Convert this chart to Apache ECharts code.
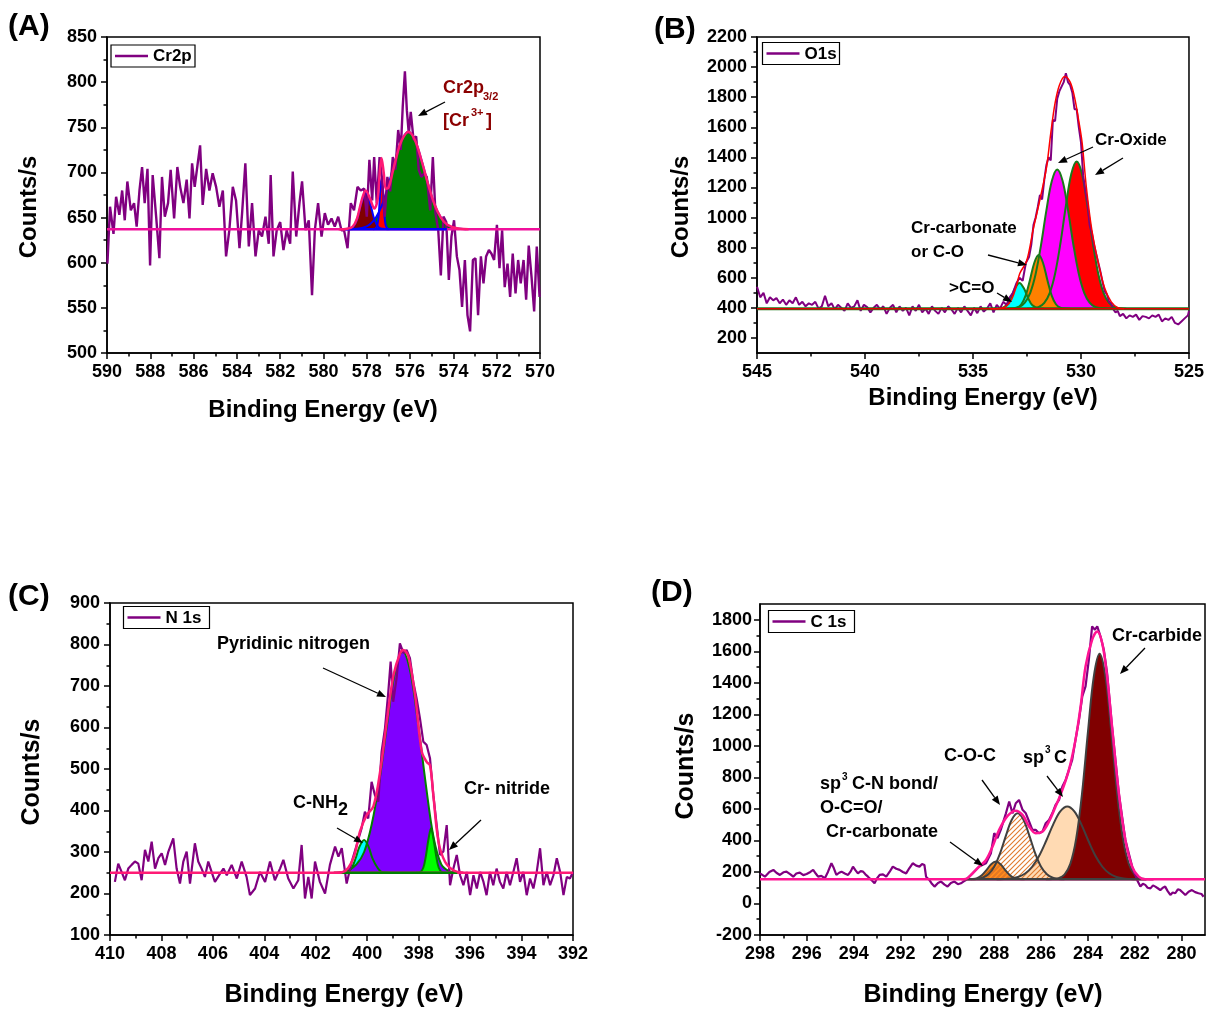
<!DOCTYPE html>
<html><head><meta charset="utf-8">
<script src="https://cdn.jsdelivr.net/npm/echarts@6/dist/echarts.min.js"></script>
<style>html,body{margin:0;padding:0;background:#fff}#c{width:1207px;height:1009px}</style>
</head><body><div id="c"></div><script>
// ---------------- DATA ----------------
// Panel A : Cr2p
const A_raw=[[589.98,599],[589.86,662],[589.70,632],[589.58,673],[589.43,653],[589.30,680],[589.18,647],[589.06,690],[588.90,658],[588.75,666],[588.63,640],[588.50,680],[588.38,706],[588.26,666],[588.13,704],[588.01,597],[587.89,697],[587.73,651],[587.58,605],[587.46,695],[587.33,651],[587.18,666],[587.06,703],[586.90,649],[586.75,706],[586.62,684],[586.47,666],[586.32,692],[586.19,649],[586.07,710],[585.95,684],[585.82,708],[585.70,730],[585.58,664],[585.42,704],[585.27,680],[585.12,699],[584.96,684],[584.81,662],[584.65,680],[584.50,607],[584.35,636],[584.19,684],[584.04,669],[583.88,616],[583.76,655],[583.61,710],[583.45,618],[583.30,666],[583.14,607],[582.99,636],[582.84,629],[582.68,651],[582.53,621],[582.44,697],[582.31,607],[582.16,636],[582.00,645],[581.85,614],[581.70,636],[581.54,621],[581.42,701],[581.26,629],[581.11,666],[580.99,690],[580.83,636],[580.68,647],[580.53,564],[580.40,636],[580.25,666],[580.09,629],[579.94,655],[579.79,642],[579.63,649],[579.48,640],[579.32,651],[579.17,636],[579.05,636],[578.89,616],[578.74,666],[578.59,658],[578.43,684],[578.28,680],[578.12,682],[578.00,651],[577.88,714],[577.75,669],[577.66,717],[577.54,666],[577.41,717],[577.29,692],[577.17,651],[577.05,695],[576.92,679],[576.80,717],[576.68,703],[576.55,747],[576.43,725],[576.34,773],[576.24,812],[576.15,769],[576.06,743],[575.97,767],[575.84,736],[575.72,740],[575.60,703],[575.48,695],[575.35,699],[575.23,695],[575.07,658],[574.95,717],[574.83,655],[574.70,636],[574.58,586],[574.46,651],[574.33,645],[574.21,581],[574.09,629],[573.97,647],[573.84,607],[573.72,592],[573.60,551],[573.47,603],[573.35,542],[573.23,524],[573.10,603],[572.98,605],[572.86,542],[572.73,607],[572.61,577],[572.49,607],[572.36,614],[572.24,610],[572.12,603],[571.99,642],[571.87,594],[571.75,636],[571.63,573],[571.50,599],[571.38,562],[571.26,610],[571.13,566],[571.01,603],[570.89,577],[570.76,603],[570.64,559],[570.52,619],[570.39,584],[570.27,546],[570.15,618],[570.02,562]];
const A_base=[[590,637],[570,637]];
const A_compBase=[[579.0,637],[574.3,637]];
const A_green=[[578.8,637],[578.48,637.5],[578.18,638.7],[577.88,642],[577.58,650],[577.28,665],[576.98,688],[576.68,714],[576.38,736],[576.08,745],[575.78,736],[575.48,714],[575.18,688],[574.88,665],[574.58,650],[574.28,642],[573.98,638.7],[573.68,637.5],[573.4,637]];
const A_maroon=[[579.1,637],[578.85,637.5],[578.65,639],[578.45,648],[578.25,666],[578.05,677],[577.85,666],[577.65,648],[577.45,639],[577.25,637.5],[577.0,637]];
const A_red=[[577.7,637],[577.62,637.5],[577.52,641],[577.44,656],[577.38,680],[577.32,694],[577.26,680],[577.2,656],[577.12,641],[577.02,637.5],[576.95,637]];
const A_env=[[579.3,637],[578.9,637.6],[578.65,640],[578.45,649],[578.25,668],[578.05,680],[577.85,671],[577.65,660],[577.5,670],[577.42,694],[577.32,716],[577.22,700],[577.12,682],[577.0,683],[576.8,701],[576.6,720],[576.4,735],[576.08,745],[575.78,736],[575.48,714],[575.18,688],[574.88,665],[574.58,650],[574.28,642],[573.98,639],[573.68,637.5],[573.3,637]];

// Panel B : O1s
const B_yMajor=[200,400,600,800,1000,1200,1400,1600,1800,2000,2200];
const B_yMinor=[300,500,700,900,1100,1300,1500,1700,1900,2100];
const B_raw=[[545.0,540],[544.85,470],[544.7,500],[544.55,430],[544.4,470],[544.25,450],[544.1,465],[543.95,430],[543.8,455],[543.65,420],[543.5,450],[543.35,430],[543.2,470],[543.05,420],[542.9,440],[542.75,410],[542.6,430],[542.45,420],[542.3,440],[542.15,395],[542.0,410],[541.85,480],[541.7,410],[541.55,430],[541.4,390],[541.25,420],[541.1,400],[540.95,380],[540.8,430],[540.65,400],[540.5,410],[540.35,450],[540.2,380],[540.05,420],[539.9,405],[539.75,370],[539.6,400],[539.45,420],[539.3,390],[539.15,410],[539.0,360],[538.85,400],[538.7,420],[538.55,370],[538.4,410],[538.25,380],[538.1,400],[537.95,350],[537.8,410],[537.65,380],[537.5,420],[537.35,370],[537.2,395],[537.05,360],[536.9,410],[536.75,380],[536.6,360],[536.45,400],[536.3,370],[536.15,410],[536.0,390],[535.85,360],[535.7,400],[535.55,370],[535.4,410],[535.25,380],[535.1,350],[534.95,400],[534.8,365],[534.65,410],[534.5,375],[534.35,395],[534.2,430],[534.05,370],[533.9,420],[533.75,395],[533.6,440],[533.45,420],[533.3,470],[533.15,500],[533.0,560],[532.85,600],[532.7,580],[532.55,700],[532.4,740],[532.3,820],[532.2,950],[532.1,1000],[532.0,1070],[531.9,1150],[531.8,1120],[531.7,1250],[531.6,1350],[531.5,1400],[531.4,1380],[531.3,1650],[531.2,1640],[531.1,1790],[531.0,1840],[530.9,1870],[530.8,1900],[530.7,1960],[530.6,1900],[530.5,1880],[530.4,1830],[530.3,1720],[530.2,1720],[530.1,1600],[530.0,1500],[529.9,1280],[529.8,1180],[529.7,1100],[529.6,950],[529.5,900],[529.4,820],[529.3,760],[529.2,700],[529.1,640],[529.0,570],[528.9,510],[528.8,490],[528.7,440],[528.6,430],[528.5,390],[528.4,370],[528.3,380],[528.2,345],[528.05,360],[527.9,330],[527.75,350],[527.6,340],[527.45,355],[527.3,320],[527.15,345],[527.0,340],[526.85,330],[526.7,350],[526.55,340],[526.4,355],[526.25,310],[526.1,330],[525.95,320],[525.8,340],[525.65,300],[525.5,290],[525.35,310],[525.2,330],[525.05,350],[525.0,380]];
const B_base=[[545,394],[525,394]];
const B_cyan=[[534.1,394],[533.75,396],[533.45,417],[533.25,465],[533.05,532],[532.85,566],[532.65,532],[532.45,465],[532.25,417],[531.95,396],[531.7,394]];
const B_orange=[[533.4,394],[533.16,395],[532.96,401],[532.76,424],[532.56,483],[532.36,587],[532.16,700],[531.96,751],[531.76,700],[531.56,587],[531.36,483],[531.16,424],[530.96,401],[530.76,395],[530.5,394]];
const B_magenta=[[533.4,394],[533.1,398],[532.85,407],[532.6,435],[532.35,500],[532.1,625],[531.85,818],[531.6,1049],[531.35,1243],[531.1,1320],[530.85,1243],[530.6,1049],[530.35,818],[530.1,625],[529.85,500],[529.6,435],[529.35,407],[529.1,398],[528.8,394]];
const B_red=[[532.5,394],[532.2,397],[531.95,406],[531.7,433],[531.45,498],[531.2,627],[530.95,831],[530.7,1077],[530.45,1289],[530.2,1373],[529.95,1289],[529.7,1077],[529.45,831],[529.2,627],[528.95,498],[528.7,433],[528.45,406],[528.2,397],[527.9,394]];
const B_env=[[534.2,394],[533.75,396],[533.45,412],[533.2,460],[533.0,540],[532.83,630],[532.52,710],[532.21,923],[531.9,1120],[531.6,1330],[531.4,1560],[531.2,1760],[531.0,1880],[530.75,1938],[530.5,1900],[530.3,1800],[530.1,1640],[529.95,1500],[529.75,1200],[529.5,920],[529.2,700],[528.9,530],[528.6,440],[528.3,402],[528.0,394]];

// Panel C : N 1s
const C_raw=[[409.81,228],[409.68,272],[409.55,252],[409.42,232],[409.29,260],[409.16,269],[409.03,277],[408.90,272],[408.77,232],[408.64,305],[408.51,277],[408.38,325],[408.25,260],[408.12,285],[407.99,297],[407.86,269],[407.73,301],[407.54,333],[407.41,260],[407.28,224],[407.15,277],[407.02,301],[406.89,224],[406.70,321],[406.57,277],[406.44,260],[406.31,240],[406.18,277],[406.05,252],[405.92,228],[405.72,248],[405.59,260],[405.46,244],[405.27,269],[405.07,236],[404.88,277],[404.69,240],[404.56,196],[404.36,212],[404.17,252],[403.97,228],[403.78,277],[403.59,232],[403.39,260],[403.26,281],[403.07,236],[402.87,212],[402.68,232],[402.55,317],[402.42,188],[402.29,240],[402.16,188],[402.03,277],[401.84,228],[401.64,200],[401.45,269],[401.25,313],[401.12,289],[400.99,309],[400.80,224],[400.60,277],[400.41,317],[400.22,357],[400.09,397],[399.96,381],[399.83,469],[399.70,437],[399.57,421],[399.44,542],[399.31,598],[399.18,686],[399.09,759],[398.99,662],[398.86,718],[398.73,803],[398.59,779],[398.47,787],[398.34,767],[398.21,710],[398.08,670],[397.95,622],[397.82,566],[397.69,558],[397.56,526],[397.43,437],[397.30,365],[397.17,293],[397.04,301],[396.91,365],[396.78,220],[396.65,260],[396.52,293],[396.39,244],[396.26,220],[396.13,252],[396.00,196],[395.87,244],[395.74,212],[395.61,252],[395.48,228],[395.36,196],[395.23,252],[395.10,220],[394.97,260],[394.84,228],[394.71,212],[394.58,252],[394.45,220],[394.32,252],[394.19,285],[394.06,228],[393.93,252],[393.80,196],[393.67,236],[393.54,212],[393.41,252],[393.28,309],[393.15,220],[393.02,252],[392.89,220],[392.76,244],[392.63,285],[392.50,252],[392.37,196],[392.24,240],[392.12,236],[392.0,252]];
const C_base=[[410,250],[392,250]];
const C_compBase=[[401.0,250],[396.5,250]];
const C_cyan=[[401.1,250],[400.8,251],[400.6,262],[400.45,285],[400.3,313],[400.12,329],[399.95,313],[399.8,285],[399.6,262],[399.4,251],[399.1,250]];
const C_violet=[[401.3,250],[401.02,251],[400.72,256],[400.42,270],[400.12,300],[399.82,368],[399.52,474],[399.22,611],[398.92,733],[398.62,783],[398.32,733],[398.02,608],[397.72,462],[397.42,335],[397.12,270],[396.82,254],[396.52,250.5],[396.3,250]];
const C_green=[[398.1,250],[397.95,251],[397.82,262],[397.72,290],[397.62,330],[397.52,357],[397.42,330],[397.32,290],[397.22,262],[397.09,251],[396.95,250]];
const C_env=[[401.3,250],[400.93,252],[400.54,285],[400.28,350],[400.02,389],[399.76,410],[399.5,493],[399.24,614],[398.98,726],[398.72,779],[398.59,787],[398.4,771],[398.14,678],[397.88,542],[397.69,517],[397.56,509],[397.43,437],[397.23,325],[396.97,276],[396.65,256],[396.26,250]];

// Panel D : C 1s
const D_xMajor=[298,296,294,292,290,288,286,284,282,280];
const D_xMinor=[297,295,293,291,289,287,285,283,281];
const D_yMajor=[-200,0,200,400,600,800,1000,1200,1400,1600,1800];
const D_yMinor=[-100,100,300,500,700,900,1100,1300,1500,1700];
const D_raw=[[298.00,191],[297.79,170],[297.60,200],[297.43,213],[297.30,195],[297.15,181],[297.00,198],[296.87,202],[296.70,185],[296.58,170],[296.45,190],[296.30,196],[296.15,180],[296.01,187],[295.85,200],[295.73,213],[295.62,190],[295.52,170],[295.38,175],[295.23,160],[295.10,200],[294.95,255],[294.85,225],[294.74,181],[294.62,195],[294.52,202],[294.38,190],[294.24,181],[294.12,205],[294.03,234],[293.92,210],[293.82,191],[293.70,205],[293.60,202],[293.50,185],[293.39,170],[293.25,150],[293.11,128],[293.00,160],[292.89,181],[292.75,185],[292.61,170],[292.47,200],[292.33,234],[292.18,220],[292.04,213],[291.90,200],[291.76,191],[291.62,225],[291.48,255],[291.33,240],[291.19,234],[291.08,250],[290.98,244],[290.91,170],[290.77,149],[290.66,125],[290.55,107],[290.40,130],[290.27,139],[290.12,120],[289.99,107],[289.85,130],[289.70,139],[289.55,122],[289.42,128],[289.30,140],[289.21,149],[288.92,192],[288.64,234],[288.35,255],[288.14,319],[288.00,446],[287.86,414],[287.72,467],[287.50,572],[287.36,647],[287.22,572],[287.08,636],[286.94,657],[286.79,594],[286.65,572],[286.51,520],[286.37,467],[286.23,467],[286.09,446],[285.94,456],[285.80,509],[285.66,530],[285.52,572],[285.38,625],[285.23,657],[285.09,742],[284.95,784],[284.81,848],[284.67,911],[284.53,1038],[284.38,1165],[284.24,1313],[284.10,1377],[283.96,1546],[283.82,1758],[283.70,1737],[283.60,1758],[283.46,1694],[283.32,1610],[283.18,1461],[282.97,1123],[282.68,700],[282.40,403],[282.11,234],[281.90,149],[281.76,107],[281.65,125],[281.55,118],[281.45,100],[281.33,96],[281.22,115],[281.12,107],[281.00,95],[280.91,85],[280.80,100],[280.70,107],[280.60,80],[280.48,54],[280.38,70],[280.27,65],[280.16,90],[280.06,85],[279.95,70],[279.84,54],[279.70,75],[279.56,85],[279.42,72],[279.28,65],[279.15,60],[279.06,43]];
const D_base=[[298,153],[279,153]];
const D_compBase=[[289.3,153],[281.5,153]];
const D_peach=[[287.9,153],[287.58,155],[287.28,158],[286.98,168],[286.68,190],[286.38,233],[286.08,303],[285.78,398],[285.48,502],[285.18,584],[284.88,615],[284.58,584],[284.28,502],[283.98,398],[283.68,303],[283.38,233],[283.08,190],[282.78,168],[282.48,158],[282.18,155],[281.9,153]];
const D_maroon=[[285.8,153],[285.5,155],[285.25,160],[285.0,183],[284.75,251],[284.5,411],[284.25,698],[284.0,1085],[283.75,1438],[283.5,1584],[283.25,1438],[283.0,1085],[282.75,698],[282.5,411],[282.25,251],[282.0,183],[281.75,160],[281.5,155],[281.2,153]];
const D_orange=[[289.2,153],[288.93,155],[288.73,161],[288.53,179],[288.33,212],[288.13,249],[287.93,266],[287.73,249],[287.53,212],[287.33,179],[287.13,161],[286.93,155],[286.7,153]];
const D_coc=[[289.0,153],[288.75,156],[288.5,163],[288.25,185],[288.0,233],[287.75,318],[287.5,430],[287.25,531],[287.0,572],[286.75,531],[286.5,430],[286.25,318],[286.0,233],[285.75,185],[285.5,163],[285.25,156],[285.0,153]];
const D_env=[[289.4,153],[289.21,156],[288.92,192],[288.64,234],[288.35,276],[288.07,361],[287.79,467],[287.43,556],[287.08,589],[286.79,562],[286.51,488],[286.23,446],[285.94,456],[285.66,520],[285.38,615],[285.09,721],[284.81,848],[284.53,1038],[284.31,1250],[284.10,1504],[283.82,1673],[283.60,1726],[283.39,1652],[283.18,1440],[282.97,1123],[282.68,700],[282.40,403],[282.11,234],[281.83,170],[281.55,153],[281.2,153]];

// ---------------- STYLE / BUILD ----------------
const F='"Liberation Sans", Arial, Helvetica, sans-serif';
const BLK={color:'#000',width:1.5};
function makeHatch(bg, fg, step, lw){
  const c=document.createElement('canvas'); c.width=step; c.height=step;
  const g=c.getContext('2d');
  if(bg){g.fillStyle=bg; g.fillRect(0,0,step,step);}
  g.strokeStyle=fg; g.lineWidth=lw; g.beginPath();
  g.moveTo(-1,step+1); g.lineTo(step+1,-1);
  g.moveTo(-step/2-1,step/2+1); g.lineTo(step/2+1,-step/2-1);
  g.moveTo(step/2-1,step*1.5+1); g.lineTo(step*1.5+1,step/2-1);
  g.stroke(); return c;
}
const hatchCOC=makeHatch(null,'#e07a2e',5,1.1);
const hatchOr=makeHatch('#ff8a1e','#c45a08',5,1.1);
const fmt=function(v){return String(v);};
const lblS={color:'#000',fontFamily:F,fontWeight:'bold',fontSize:18,margin:10,formatter:fmt};

function ax(gi,min,max,o){
  return Object.assign({type:'value',gridIndex:gi,min:min,max:max,
    axisLine:{show:true,onZero:false,lineStyle:BLK},
    axisTick:{show:true,length:6,lineStyle:BLK},
    splitLine:{show:false},
    axisLabel:Object.assign({},lblS)},o);
}
const minorT={show:true,splitNumber:2,length:3.5,lineStyle:BLK};
const hiddenLine={show:false,onZero:false};

const xAxis=[
  ax(0,570,590,{inverse:true,position:'bottom',interval:2,minorTick:minorT}),
  ax(1,525,545,{inverse:true,position:'bottom',interval:5,minorTick:minorT}),
  ax(2,392,410,{inverse:true,position:'bottom',interval:2,minorTick:minorT}),
  ax(3,279,298,{inverse:true,position:'bottom',axisTick:{show:true,length:6,lineStyle:BLK,customValues:D_xMajor},axisLabel:Object.assign({},lblS,{customValues:D_xMajor})}),
  ax(3,279,298,{inverse:true,position:'bottom',axisLine:hiddenLine,axisLabel:{show:false},axisTick:{show:true,length:3.5,lineStyle:BLK,customValues:D_xMinor}})
];
const yAxis=[
  ax(0,500,850,{position:'left',interval:50,minorTick:minorT}),
  ax(1,100,2200,{position:'left',axisTick:{show:true,length:6,lineStyle:BLK,customValues:B_yMajor},axisLabel:Object.assign({},lblS,{customValues:B_yMajor})}),
  ax(2,100,900,{position:'left',interval:100,minorTick:minorT}),
  ax(3,-200,1900,{position:'left',axisTick:{show:true,length:6,lineStyle:BLK,customValues:D_yMajor},axisLabel:Object.assign({},lblS,{margin:8,customValues:D_yMajor})}),
  ax(1,100,2200,{position:'left',axisLine:hiddenLine,axisLabel:{show:false},axisTick:{show:true,length:3.5,lineStyle:BLK,customValues:B_yMinor}}),
  ax(3,-200,1900,{position:'left',axisLine:hiddenLine,axisLabel:{show:false},axisTick:{show:true,length:3.5,lineStyle:BLK,customValues:D_yMinor}})
];
const gridBase={show:true,borderColor:'#000',borderWidth:1.5,backgroundColor:'transparent'};
const grid=[
  Object.assign({left:107,top:37,width:433,height:316},gridBase),
  Object.assign({left:757,top:37,width:432,height:316},gridBase),
  Object.assign({left:110,top:603,width:463,height:332},gridBase),
  Object.assign({left:760,top:604,width:445,height:331},gridBase)
];

function S(gi,data,o){return Object.assign({type:'line',xAxisIndex:gi,yAxisIndex:gi,data:data,symbol:'none',showSymbol:false,animation:false,silent:true},o);}
function raw(gi,d,w){return S(gi,d,{lineStyle:{color:'#800080',width:w||2.2}});}
function flat(gi,d,c,w){return S(gi,d,{lineStyle:{color:c,width:w}});}
function env(gi,d,c,w){return S(gi,d,{smooth:0.35,lineStyle:{color:c,width:w}});}
function peak(gi,d,fill,stroke,base){return S(gi,d,{smooth:0.35,lineStyle:{color:stroke,width:2},areaStyle:{color:fill,opacity:1,origin:base}});}

const series=[
  // A
  peak(0,A_green,'#008000','#0000ff',637),
  peak(0,A_maroon,'#800000','#0000ff',637),
  peak(0,A_red,'#ff0000','#0000ff',637),
  raw(0,A_raw,2.4),
  flat(0,A_base,'#f0109c',2.5),
  flat(0,A_compBase,'#0000ff',2.5),
  env(0,A_env,'#ff1a75',2.5),
  // B
  peak(1,B_red,'#ff0000','#1a7a1a',394),
  peak(1,B_magenta,'#ff00ff','#1a7a1a',394),
  peak(1,B_orange,'#ff8000','#1a7a1a',394),
  peak(1,B_cyan,'#00ffff','#1a7a1a',394),
  raw(1,B_raw,2),
  flat(1,B_base,'#1a7a1a',3),
  flat(1,B_base,'#e00000',1.4),
  env(1,B_env,'#ff0000',1.5),
  // C
  peak(2,C_cyan,'#00ffff','#008000',250),
  peak(2,C_violet,'#7f00ff','#008000',250),
  peak(2,C_green,'#00ff00','#008000',250),
  raw(2,C_raw,2.2),
  flat(2,C_base,'#ff1a75',2.5),
  flat(2,C_compBase,'#008000',2.5),
  env(2,C_env,'#ff1a75',2.5),
  // D
  peak(3,D_peach,'#ffdab3','#404040',153),
  peak(3,D_maroon,'#800000','#404040',153),
  peak(3,D_orange,{image:hatchOr,repeat:'repeat'},'#404040',153),
  peak(3,D_coc,{image:hatchCOC,repeat:'repeat'},'#404040',153),
  raw(3,D_raw,2.2),
  flat(3,D_base,'#ff1493',2.5),
  flat(3,D_compBase,'#404040',2.5),
  env(3,D_env,'#ff1493',2.5)
];

// ---------------- GRAPHIC (labels, legends, annotations) ----------------
function txt(s,x,y,size,color,align,rot){
  const e={type:'text',x:x,y:y,z:100,silent:true,style:{text:s,fill:color||'#000',font:'bold '+size+'px '+F,textAlign:align||'left',textVerticalAlign:'middle'}};
  if(rot) e.rotation=rot;
  return e;
}
function arrow(x1,y1,x2,y2){
  const a=Math.atan2(y2-y1,x2-x1),L=9,W=3.6;
  const bx=x2-L*Math.cos(a),by=y2-L*Math.sin(a);
  return [
    {type:'line',z:100,silent:true,shape:{x1:x1,y1:y1,x2:bx,y2:by},style:{stroke:'#000',lineWidth:1.3}},
    {type:'polygon',z:100,silent:true,shape:{points:[[x2,y2],[bx+W*Math.sin(a),by-W*Math.cos(a)],[bx-W*Math.sin(a),by+W*Math.cos(a)]]},style:{fill:'#000'}}
  ];
}
function legend(x,y,w,h,label){
  return [
    {type:'rect',z:99,silent:true,shape:{x:x,y:y,width:w,height:h},style:{fill:'#fff',stroke:'#000',lineWidth:1.2}},
    {type:'line',z:100,silent:true,shape:{x1:x+4,y1:y+h/2,x2:x+37,y2:y+h/2},style:{stroke:'#800080',lineWidth:2.5}},
    txt(label,x+42,y+h/2+0.5,17)
  ];
}
const R=Math.PI/2, DR='#8b0000';
const graphic=[].concat(
  txt('(A)',8,27,30), txt('(B)',654,30,30), txt('(C)',8,597,30), txt('(D)',651,593,30),
  txt('Counts/s',29,207,24,'#000','center',R), txt('Counts/s',681,207,24,'#000','center',R),
  txt('Counts/s',32,772,25,'#000','center',R), txt('Counts/s',686,766,25,'#000','center',R),
  txt('Binding Energy (eV)',323,410,24,'#000','center'), txt('Binding Energy (eV)',983,398,24,'#000','center'),
  txt('Binding Energy (eV)',344,995,25,'#000','center'), txt('Binding Energy (eV)',983,995,25,'#000','center'),
  legend(111,45,84,22,'Cr2p'), legend(762.5,42.5,77,22,'O1s'), legend(123.5,606.5,86,22,'N 1s'), legend(768.5,610.5,86,22,'C 1s'),
  // A
  txt('Cr2p',443,88,18,DR), txt('3/2',483,97,11,DR), txt('[Cr',443,121,18,DR), txt('3+',471,113,11,DR), txt(']',486,121,18,DR),
  arrow(445,102,418,116),
  // B
  txt('Cr-Oxide',1095,140,17), arrow(1093,147,1058,163), arrow(1123,158,1095,175),
  txt('Cr-carbonate',911,228,17), txt('or C-O',911,252,17), arrow(988,255,1027,265),
  txt('>C=O',949,288,17), arrow(997,293,1012,302),
  // C
  txt('Pyridinic nitrogen',217,644,18), arrow(323,668,386,697),
  txt('C-NH',293,803,18), txt('2',338,810,18), arrow(337,828,363,843),
  txt('Cr- nitride',464,789,18), arrow(481,820,449,850),
  // D
  txt('Cr-carbide',1112,636,18), arrow(1145,648,1120,674),
  txt('sp',1023,758,18), txt('3',1045,750,10), txt('C',1054,758,18), arrow(1047,776,1063,797),
  txt('C-O-C',944,756,18), arrow(982,780,1000,805),
  txt('sp',820,784,18), txt('3',842,777,10), txt('C-N bond/',852,784,18),
  txt('O-C=O/',820,808,18), txt('Cr-carbonate',826,832,18), arrow(950,842,983,866)
);

const chart=echarts.init(document.getElementById('c'),null,{renderer:'canvas'});
chart.setOption({animation:false,backgroundColor:'#fff',grid:grid,xAxis:xAxis,yAxis:yAxis,series:series,graphic:graphic});
</script></body></html>
